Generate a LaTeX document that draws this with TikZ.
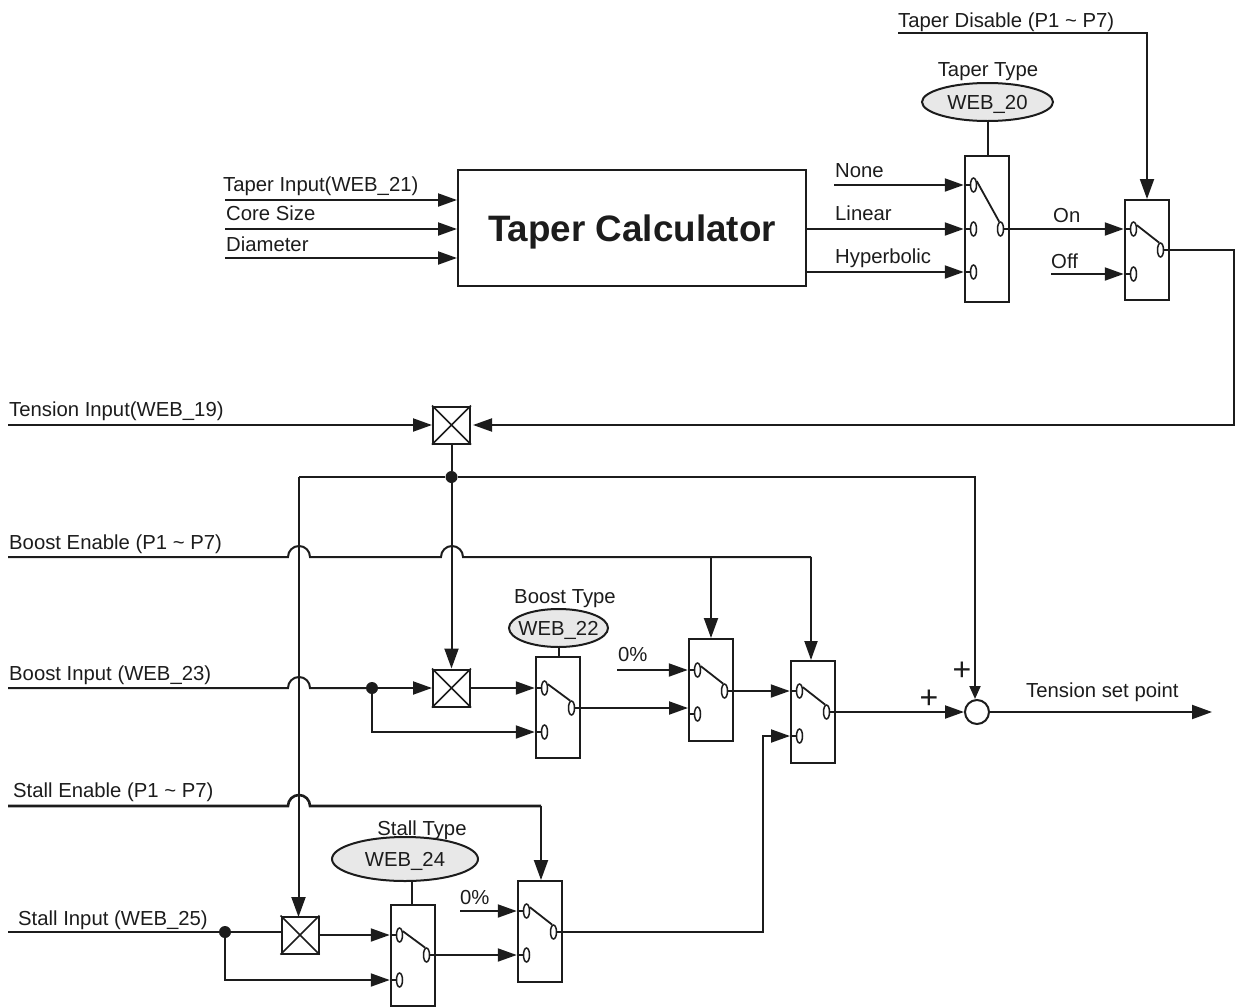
\documentclass[tikz,border=0pt]{standalone}
\usepackage{fontspec}
\setmainfont{Liberation Sans}
\usetikzlibrary{arrows.meta,shapes.geometric,shapes.misc}
\definecolor{ink}{HTML}{1C1C1C}
\definecolor{ovalfill}{HTML}{E8E8E8}
\tikzset{
  wire/.style={draw=ink,line width=2pt,line join=miter},
  arr/.style={wire,-{Triangle[length=20pt,width=14pt]}},
  arrs/.style={wire,-{Triangle[length=19pt,width=13pt]}},
  arrt/.style={wire,-{Triangle[length=13pt,width=11pt]}},
  swbody/.style={draw=ink,line width=2pt,fill=white,rectangle,inner sep=0pt,minimum width=44pt},
  contact/.style={draw=ink,line width=1.5pt,fill=white,ellipse,inner sep=0pt,minimum width=6pt,minimum height=14pt},
  xframe/.style={draw=ink,line width=2pt,rectangle,inner sep=0pt,minimum size=37pt},
  oval/.style={draw=ink,line width=2pt,fill=ovalfill,ellipse,inner sep=0pt,text=ink,font=\fontsize{20.3}{24}\selectfont},
  lab/.style={anchor=base west,inner sep=0pt,text=ink,font=\fontsize{20.3}{24}\selectfont},
  labc/.style={anchor=base,inner sep=0pt,text=ink,font=\fontsize{20.3}{24}\selectfont},
  plus/.style={anchor=base,inner sep=0pt,text=ink,font=\fontsize{32}{36}\selectfont},
  dotj/.style={circle,fill=ink,inner sep=0pt,minimum size=12pt},
}
\newcommand{\ovaltext}[1]{\raisebox{-7pt}[0pt][0pt]{\makebox[0pt][c]{#1}}}
% name, left, top, bottom, y of contact a, y of contact b, y of output
\newcommand{\swunit}[7]{%
  \node[swbody,minimum height={#4-#3}] (#1) at ({#2+22},{(#3+#4)/2}) {};
  \node[contact] (#1a) at ({#2+8.5},#5) {};
  \node[contact] (#1b) at ({#2+8.5},#6) {};
  \node[contact] (#1o) at ({#2+35.5},#7) {};
  \draw[wire,line width=1.8pt] (#1a.50) -- (#1o.100);
  \draw[wire] (#1a.west) -- (#1.west |- #1a.west);
  \draw[wire] (#1b.west) -- (#1.west |- #1b.west);
}
\newcommand{\xunit}[3]{%
  \node[xframe] (#1) at (#2,#3) {};
  \draw[wire,line width=1.6pt] (#1.north west) -- (#1.south east) (#1.north east) -- (#1.south west);
}
\begin{document}
\begin{tikzpicture}[x=1pt,y=-1pt]
\useasboundingbox (0,0) rectangle (1235,1007);

% ---- taper section
\node[draw=ink,line width=2pt,rectangle,minimum width=348pt,minimum height=116pt,inner sep=0pt,text=ink,text height=26pt,text depth=0pt,font=\fontsize{36.8}{40}\selectfont\bfseries] (calc) at (632,228) {Taper Calculator};
\swunit{swa}{965}{156}{302}{185}{229}{229}
\node[contact] (swac) at (973.5,272) {};
\draw[wire] (swac.west) -- (swa.west |- swac.west);
\swunit{swb}{1125}{200}{300}{229}{274}{250}

\coordinate (ti) at (225,200);
\coordinate (cs) at (225,229);
\coordinate (dm) at (225,258);
\draw[arrs] (ti) -- (calc.west |- ti);
\draw[arrs] (cs) -- (calc.west |- cs);
\draw[arrs] (dm) -- (calc.west |- dm);

\coordinate (none) at (834,185);
\draw[arrs,shorten >=6pt] (none) -- (swaa.west);
\draw[arrs,shorten >=6pt] (calc.east |- swab.west) -- (swab.west);
\draw[arrs,shorten >=6pt] (calc.east |- swac.west) -- (swac.west);
\draw[arrs,shorten >=6pt] (swao.east) -- (swba.west);
\coordinate (off) at (1051,274);
\draw[arrs,shorten >=6pt] (off) -- (swbb.west);

\node[oval,minimum width=131pt,minimum height=38pt] (w20) at (987.5,102) {\ovaltext{WEB\_20}};
\draw[wire] (w20.south) -- (swa.north -| w20.south);

\coordinate (td) at (898,33);
\draw[arr] (td) -| (swb.north);

% ---- tension input
\xunit{xt}{451.5}{425}
\coordinate (tin) at (8,425);
\draw[arrs] (tin) -- (xt.west);
\coordinate (rc1) at (1234,250);
\coordinate (rc2) at (1234,425);
\draw[arrs,shorten >=2pt] (swbo.east) -- (rc1) -- (rc2) -- (xt.east |- rc2);

\node[dotj] (jt) at (451.5,477) {};
\draw[wire] (xt.south) -- (jt);

% ---- summing point
\node[draw=ink,line width=2pt,circle,fill=white,inner sep=0pt,minimum size=24pt] (sum) at (977,712) {};

% ---- boost section
\xunit{xb}{451.5}{688}
\xunit{xs}{300}{935}
\coordinate (cs1) at (975,477);
\draw[arrt] (jt) -- (cs1) -- (sum.north -| cs1);
\coordinate (lt) at (298.5,477);
\coordinate (ltd) at (298.5,917);
\draw[wire] (jt) -- (lt);
\draw[arr] (lt) -- (ltd);
\draw[arr] (jt) -- (xb.north);

\swunit{swc}{536}{657}{758}{688}{732}{708}
\swunit{swd}{689}{639}{741}{670}{714}{691}
\swunit{swe}{791}{661}{763}{691}{736}{712}

\node[oval,minimum width=99pt,minimum height=38pt] (w22) at (558.5,628) {\ovaltext{WEB\_22}};
\draw[wire] (w22.south) -- (swc.north -| w22.south);

% boost enable with hops
\coordinate (be) at (8,557);
\coordinate (be1) at (288,557);
\coordinate (be2) at (441,557);
\coordinate (bej) at (711,557);
\coordinate (bee) at (811,557);
\draw[wire] (be) -- (be1) arc[start angle=180,end angle=0,radius=11pt] -- (be2) arc[start angle=180,end angle=0,radius=11pt] -- (bee);
\draw[arrs] (bee) -- (bee |- swe.north);
\draw[arr] (bej) -- (bej |- swd.north);

% boost input with hop
\coordinate (bi) at (8,688);
\coordinate (bi1) at (288,688);
\node[dotj] (jb) at (372,688) {};
\draw[wire] (bi) -- (bi1) arc[start angle=180,end angle=0,radius=11pt] -- (jb.west);
\draw[arrs] (jb) -- (xb.west);
\coordinate (jbc) at (372,732);
\draw[arrs,shorten >=6pt] (jb) -- (jbc) -- (swcb.west);
\draw[arrs,shorten >=6pt] (xb.east) -- (swca.west);
\draw[arrs] (swco.east) -- (swd.west |- swco.east);
\draw[wire] (swd.west |- swdb.west) -- (swdb.west);
\coordinate (z1) at (617,670);
\draw[arrs,shorten >=6pt] (z1) -- (swda.west);
\draw[arrs,shorten >=6pt] (swdo.east) -- (swea.west);
\draw[arrs] (sweo.east) -- (sum.west);
\coordinate (tsp) at (1212,712);
\draw[arr] (sum.east) -- (tsp);

% ---- stall section
\swunit{swf}{391}{905}{1006}{935}{980}{955}
\swunit{swg}{518}{881}{982}{911}{955}{932}
\node[oval,minimum width=146pt,minimum height=44pt] (w24) at (405,859) {\ovaltext{WEB\_24}};
\draw[wire] (412,880.5) -- (swf.north -| 412,880.5);

\coordinate (se) at (8,806);
\coordinate (se1) at (288,806);
\coordinate (see) at (541,806);
\draw[wire,line width=2.6pt] (se) -- (se1) arc[start angle=180,end angle=0,radius=11pt] -- (see);
\draw[arr] (see) -- (see |- swg.north);

\coordinate (sin) at (8,932);
\node[dotj] (js) at (225,932) {};
\draw[wire] (sin) -- (js);
\draw[wire] (js) -- (xs.west |- js);
\coordinate (jsc) at (225,980);
\draw[arrs,shorten >=6pt] (js) -- (jsc) -- (swfb.west);
\draw[arrs,shorten >=6pt] (xs.east) -- (swfa.west);
\draw[arrs,shorten >=6pt] (swfo.east) -- (swgb.west);
\coordinate (z2) at (460,911);
\draw[arrs,shorten >=6pt] (z2) -- (swga.west);
\coordinate (up1) at (763,932);
\coordinate (up2) at (763,736);
\draw[arrs] (swgo.east) -- (up1) -- (up2) -- (swe.west |- up2);

% ---- labels
\node[lab] (l1) at (898,27) {Taper Disable (P1 \char`\~{} P7)};
\node[labc] (l2) at (988,76) {Taper Type};
\node[lab] (l3) at (835,177) {None};
\node[lab] (l4) at (835,220) {Linear};
\node[lab] (l5) at (835,263) {Hyperbolic};
\node[lab] (l6) at (1053,222) {On};
\node[lab] (l7) at (1051,268) {Off};
\node[lab] (l8) at (223,191) {Taper Input(WEB\_21)};
\node[lab] (l9) at (226,220) {Core Size};
\node[lab] (l10) at (226,251) {Diameter};
\node[lab] (l11) at (9,416) {Tension Input(WEB\_19)};
\node[lab] (l12) at (9,549) {Boost Enable (P1 \char`\~{} P7)};
\node[lab] (l13) at (9,680) {Boost Input (WEB\_23)};
\node[lab] (l14) at (13,797) {Stall Enable (P1 \char`\~{} P7)};
\node[lab] (l15) at (18,925) {Stall Input (WEB\_25)};
\node[labc] (l16) at (565,603) {Boost Type};
\node[lab] (l17) at (618,661) {0\%};
\node[lab] (l18) at (460,904) {0\%};
\node[labc] (l19) at (422,835) {Stall Type};
\node[lab] (l20) at (1026,697) {Tension set point};
\node[plus] (l21) at (962,680) {+};
\node[plus] (l22) at (929,708) {+};
\end{tikzpicture}
\end{document}
